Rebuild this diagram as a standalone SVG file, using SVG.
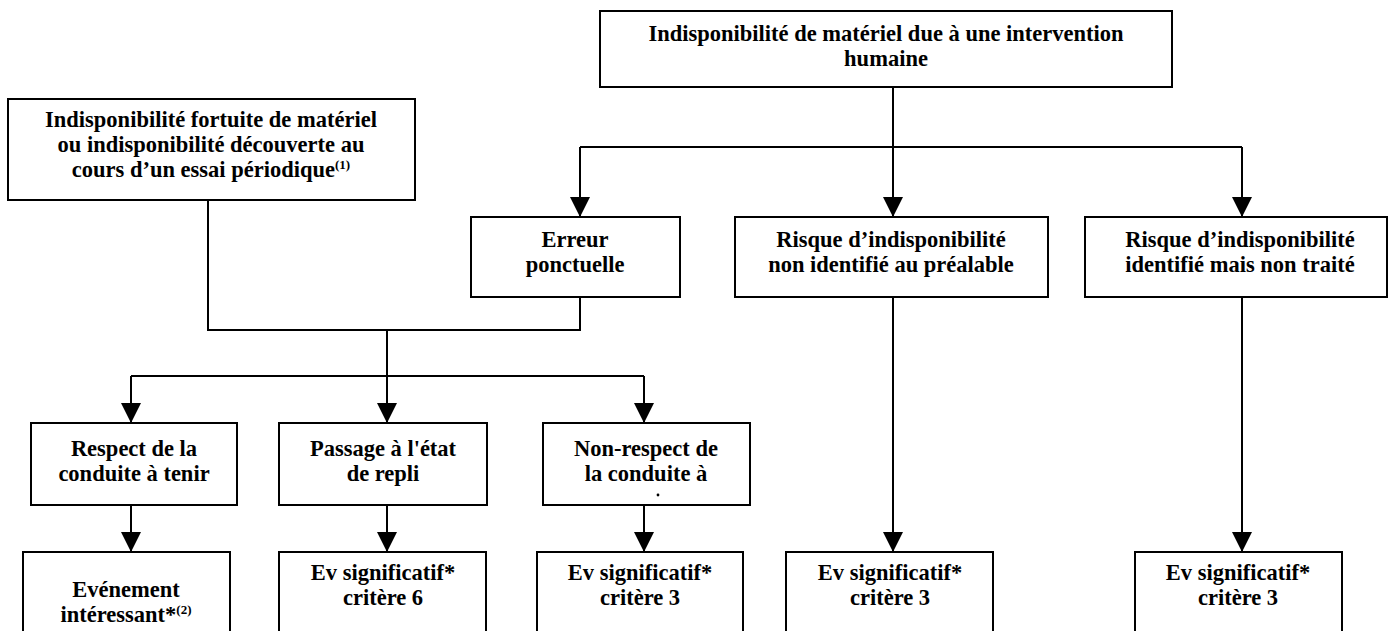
<svg xmlns="http://www.w3.org/2000/svg" width="1389" height="631" viewBox="0 0 1389 631">
<style>
.box{fill:#fff;stroke:#000;stroke-width:2}
.t{font-family:"Liberation Serif","Times New Roman",serif;font-weight:bold;font-size:22.5px;fill:#000;text-anchor:middle}
.c{fill:none;stroke:#000;stroke-width:2}
.sup{font-size:13px}
</style>
<defs>
<marker id="arr" viewBox="0 0 20 20" refX="20" refY="10" markerWidth="20" markerHeight="20" markerUnits="userSpaceOnUse" orient="auto">
<path d="M0,0 L20,10 L0,20 z" fill="#000"/>
</marker>
</defs>
<rect width="1389" height="631" fill="#fff"/>
<g id="connectors">
<polyline class="c" points="893,87 893,147"/>
<polyline class="c" points="580,147 1242,147"/>
<line class="c" x1="580" y1="147" x2="580" y2="217" marker-end="url(#arr)"/>
<line class="c" x1="893" y1="147" x2="893" y2="217" marker-end="url(#arr)"/>
<line class="c" x1="1242" y1="147" x2="1242" y2="217" marker-end="url(#arr)"/>
<polyline class="c" points="208,200 208,330 580,330 580,297"/>
<polyline class="c" points="387,330 387,376"/>
<polyline class="c" points="131,376 644,376"/>
<line class="c" x1="131" y1="376" x2="131" y2="423" marker-end="url(#arr)"/>
<line class="c" x1="387" y1="376" x2="387" y2="423" marker-end="url(#arr)"/>
<line class="c" x1="644" y1="376" x2="644" y2="423" marker-end="url(#arr)"/>
<line class="c" x1="131" y1="498" x2="131" y2="552" marker-end="url(#arr)"/>
<line class="c" x1="387" y1="498" x2="387" y2="552" marker-end="url(#arr)"/>
<line class="c" x1="644" y1="498" x2="644" y2="552" marker-end="url(#arr)"/>
<line class="c" x1="893" y1="291" x2="893" y2="552" marker-end="url(#arr)"/>
<line class="c" x1="1242" y1="291" x2="1242" y2="552" marker-end="url(#arr)"/>
</g>
<g id="n-top">
<rect class="box" x="600" y="11" width="572" height="76"/>
<text class="t" x="886" y="41">Indisponibilité de matériel due à une intervention</text>
<text class="t" x="886" y="66">humaine</text>
</g>
<g id="n-fortuite">
<rect class="box" x="8" y="99" width="407" height="101"/>
<text class="t" x="211" y="127">Indisponibilité fortuite de matériel</text>
<text class="t" x="211" y="152">ou indisponibilité découverte au</text>
<text class="t" x="211" y="177">cours d’un essai périodique<tspan class="sup" dy="-8">(1)</tspan></text>
</g>
<g id="n-erreur">
<rect class="box" x="471" y="217" width="209" height="80"/>
<text class="t" x="575" y="247">Erreur</text>
<text class="t" x="575" y="272">ponctuelle</text>
</g>
<g id="n-risque1">
<rect class="box" x="735" y="217" width="313" height="80"/>
<text class="t" x="891" y="247">Risque d’indisponibilité</text>
<text class="t" x="891" y="272">non identifié au préalable</text>
</g>
<g id="n-risque2">
<rect class="box" x="1085" y="217" width="302" height="80"/>
<text class="t" x="1240" y="247">Risque d’indisponibilité</text>
<text class="t" x="1240" y="272">identifié mais non traité</text>
</g>
<g id="n-respect">
<rect class="box" x="31" y="423" width="206" height="82"/>
<text class="t" x="134" y="456">Respect de la</text>
<text class="t" x="134" y="481">conduite à tenir</text>
</g>
<g id="n-passage">
<rect class="box" x="279" y="423" width="208" height="82"/>
<text class="t" x="383" y="456">Passage à l'état</text>
<text class="t" x="383" y="481">de repli</text>
</g>
<g id="n-nonrespect">
<rect class="box" x="543" y="423" width="207" height="82"/>
<text class="t" x="646" y="456">Non-respect de</text>
<text class="t" x="646" y="481">la conduite à</text>
<circle cx="658" cy="495" r="1.4" fill="#000"/>
</g>
<g id="n-evenement">
<rect class="box" x="23" y="552" width="207" height="95"/>
<text class="t" x="126" y="597">Evénement</text>
<text class="t" x="126" y="622">intéressant*<tspan class="sup" dy="-8">(2)</tspan></text>
</g>
<g id="n-ev6">
<rect class="box" x="279" y="552" width="207" height="95"/>
<text class="t" x="383" y="580">Ev significatif*</text>
<text class="t" x="383" y="605">critère 6</text>
</g>
<g id="n-ev3a">
<rect class="box" x="537" y="552" width="206" height="95"/>
<text class="t" x="640" y="580">Ev significatif*</text>
<text class="t" x="640" y="605">critère 3</text>
</g>
<g id="n-ev3b">
<rect class="box" x="786" y="552" width="207" height="95"/>
<text class="t" x="890" y="580">Ev significatif*</text>
<text class="t" x="890" y="605">critère 3</text>
</g>
<g id="n-ev3c">
<rect class="box" x="1135" y="552" width="207" height="95"/>
<text class="t" x="1238" y="580">Ev significatif*</text>
<text class="t" x="1238" y="605">critère 3</text>
</g>
</svg>
